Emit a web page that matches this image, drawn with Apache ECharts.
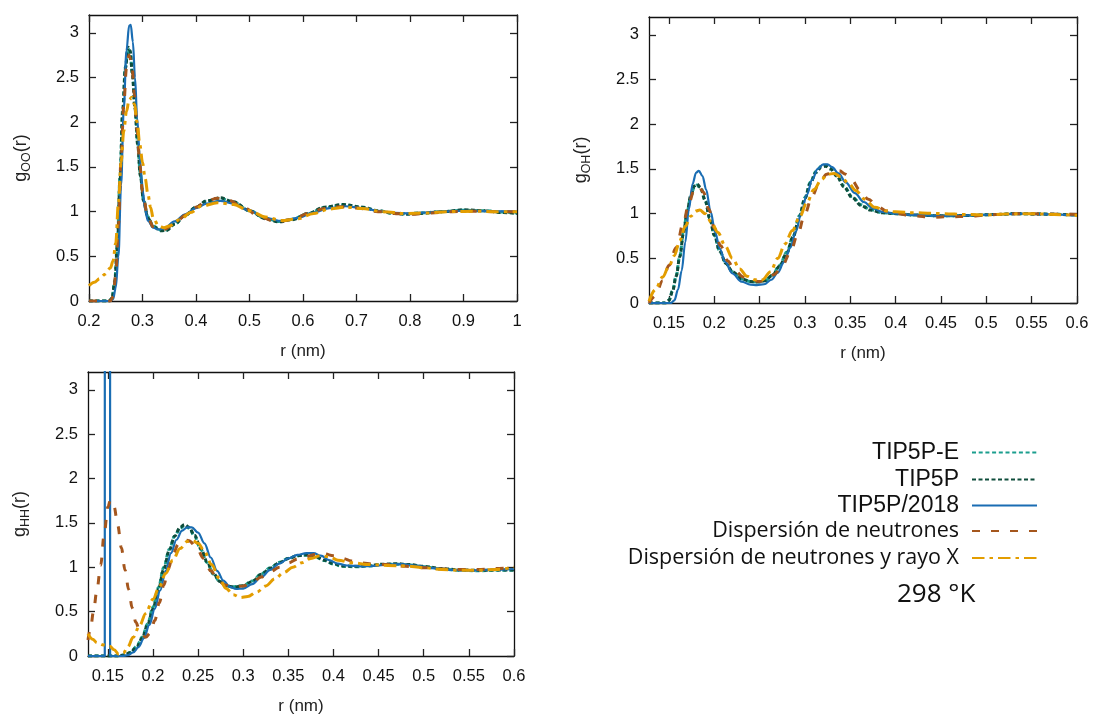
<!DOCTYPE html>
<html>
<head>
<meta charset="utf-8">
<script src="https://cdn.jsdelivr.net/npm/echarts@6/dist/echarts.min.js"></script>
<style>
html,body{margin:0;padding:0;background:#fff}
#chart{width:1093px;height:716px}
</style>
</head>
<body>
<div id="chart"></div>
<script>
// serie names, in the legend order
var names = ['TIP5P-E', 'TIP5P', 'TIP5P/2018', 'Dispersión de neutrones', 'Dispersión de neutrones y rayo X'];

// tick labels
var yTicks = [0, 0.5, 1, 1.5, 2, 2.5, 3];
var xTicksOO = [0.2, 0.3, 0.4, 0.5, 0.6, 0.7, 0.8, 0.9, 1];
var xTicksOH = [0.15, 0.2, 0.25, 0.3, 0.35, 0.4, 0.45, 0.5, 0.55, 0.6];
var xTicksHH = [0.15, 0.2, 0.25, 0.3, 0.35, 0.4, 0.45, 0.5, 0.55, 0.6];

// g_OO(r)
var gOO_tip5pe = [[0.2,0],[0.238,0],[0.243,0.03],[0.248,0.22],[0.253,0.65],[0.258,1.4],[0.263,2.15],[0.268,2.62],[0.273,2.82],[0.277,2.78],[0.281,2.55],[0.286,2.17],[0.291,1.77],[0.296,1.42],[0.302,1.13],[0.31,0.94],[0.32,0.84],[0.335,0.79],[0.345,0.795],[0.36,0.86],[0.38,0.96],[0.40,1.05],[0.42,1.115],[0.445,1.15],[0.47,1.105],[0.50,1.01],[0.53,0.925],[0.555,0.89],[0.58,0.915],[0.61,0.98],[0.64,1.045],[0.675,1.075],[0.71,1.05],[0.74,1.01],[0.77,0.98],[0.79,0.975],[0.82,0.985],[0.86,1.0],[0.9,1.015],[0.94,1.01],[0.97,0.995],[1.0,0.985]];
var gOO_tip5p = [[0.2,0],[0.238,0],[0.243,0.03],[0.248,0.2],[0.253,0.6],[0.258,1.35],[0.263,2.1],[0.268,2.6],[0.273,2.84],[0.277,2.8],[0.281,2.55],[0.286,2.15],[0.291,1.75],[0.296,1.4],[0.302,1.12],[0.31,0.93],[0.32,0.83],[0.335,0.785],[0.345,0.79],[0.36,0.86],[0.38,0.96],[0.40,1.05],[0.42,1.12],[0.445,1.155],[0.47,1.11],[0.50,1.01],[0.53,0.92],[0.555,0.885],[0.58,0.91],[0.61,0.98],[0.64,1.05],[0.675,1.08],[0.71,1.05],[0.74,1.01],[0.77,0.98],[0.79,0.97],[0.82,0.98],[0.86,1.0],[0.9,1.02],[0.94,1.01],[0.97,0.99],[1.0,0.98]];
var gOO_tip5p2018 = [[0.2,0],[0.24,0],[0.245,0.02],[0.25,0.15],[0.255,0.5],[0.26,1.3],[0.265,2.15],[0.27,2.8],[0.275,3.08],[0.278,3.09],[0.282,2.9],[0.286,2.5],[0.29,2.05],[0.295,1.6],[0.30,1.25],[0.305,1.02],[0.31,0.9],[0.32,0.82],[0.33,0.80],[0.34,0.81],[0.36,0.89],[0.38,0.97],[0.40,1.04],[0.42,1.09],[0.445,1.12],[0.47,1.09],[0.50,1.01],[0.53,0.93],[0.56,0.895],[0.59,0.93],[0.62,0.99],[0.65,1.04],[0.68,1.06],[0.71,1.04],[0.74,1.01],[0.77,0.985],[0.80,0.98],[0.83,0.99],[0.86,1.0],[0.90,1.01],[0.94,1.005],[1.0,1.0]];
var gOO_neutron = [[0.2,0],[0.24,0],[0.245,0.05],[0.25,0.3],[0.255,0.85],[0.26,1.6],[0.265,2.2],[0.27,2.6],[0.275,2.75],[0.28,2.65],[0.285,2.3],[0.29,1.9],[0.295,1.52],[0.30,1.22],[0.31,0.94],[0.32,0.83],[0.33,0.80],[0.34,0.80],[0.36,0.86],[0.38,0.96],[0.40,1.05],[0.42,1.12],[0.44,1.15],[0.46,1.13],[0.49,1.04],[0.52,0.94],[0.55,0.885],[0.58,0.91],[0.61,0.98],[0.64,1.035],[0.67,1.055],[0.70,1.04],[0.74,1.0],[0.78,0.975],[0.80,0.97],[0.84,0.985],[0.88,1.0],[0.92,1.005],[0.96,1.0],[1.0,1.0]];
var gOO_xray = [[0.2,0.17],[0.21,0.21],[0.22,0.25],[0.23,0.3],[0.24,0.37],[0.245,0.45],[0.25,0.65],[0.255,1.1],[0.26,1.55],[0.265,1.9],[0.27,2.12],[0.275,2.25],[0.28,2.28],[0.285,2.2],[0.29,2.0],[0.295,1.75],[0.30,1.55],[0.305,1.37],[0.31,1.2],[0.315,1.05],[0.32,0.93],[0.33,0.84],[0.34,0.82],[0.35,0.84],[0.37,0.91],[0.39,0.99],[0.41,1.06],[0.44,1.1],[0.47,1.08],[0.50,1.01],[0.53,0.94],[0.56,0.9],[0.59,0.92],[0.62,0.98],[0.65,1.03],[0.68,1.05],[0.71,1.035],[0.75,1.0],[0.79,0.98],[0.83,0.985],[0.87,1.0],[0.92,1.005],[0.96,1.0],[1.0,1.0]];

// g_OH(r)
var gOH_tip5pe = [[0.128,0],[0.146,0],[0.15,0.03],[0.154,0.14],[0.158,0.31],[0.162,0.53],[0.166,0.79],[0.17,1.02],[0.174,1.19],[0.178,1.3],[0.181,1.32],[0.185,1.28],[0.19,1.14],[0.195,0.95],[0.2,0.76],[0.206,0.58],[0.213,0.44],[0.22,0.35],[0.23,0.27],[0.24,0.24],[0.248,0.235],[0.256,0.25],[0.264,0.31],[0.272,0.42],[0.28,0.57],[0.287,0.75],[0.294,0.98],[0.3,1.18],[0.306,1.35],[0.312,1.47],[0.318,1.53],[0.323,1.54],[0.328,1.51],[0.335,1.43],[0.343,1.31],[0.352,1.19],[0.362,1.1],[0.372,1.045],[0.385,1.01],[0.40,1.0],[0.42,0.985],[0.45,0.975],[0.48,0.98],[0.51,0.99],[0.535,1.0],[0.56,0.995],[0.6,0.985]];
var gOH_tip5p = [[0.128,0],[0.146,0],[0.15,0.03],[0.154,0.13],[0.158,0.3],[0.162,0.52],[0.166,0.78],[0.17,1.02],[0.174,1.2],[0.178,1.31],[0.181,1.33],[0.185,1.29],[0.19,1.15],[0.195,0.95],[0.2,0.76],[0.206,0.58],[0.213,0.44],[0.22,0.35],[0.23,0.27],[0.24,0.24],[0.248,0.235],[0.256,0.25],[0.264,0.31],[0.272,0.41],[0.28,0.56],[0.287,0.74],[0.294,0.97],[0.3,1.17],[0.306,1.34],[0.312,1.46],[0.318,1.52],[0.323,1.53],[0.328,1.5],[0.335,1.42],[0.343,1.3],[0.352,1.18],[0.362,1.09],[0.372,1.04],[0.385,1.01],[0.40,1.0],[0.42,0.985],[0.45,0.975],[0.48,0.98],[0.51,0.99],[0.535,1.0],[0.56,0.995],[0.6,0.985]];
var gOH_tip5p2018 = [[0.128,0],[0.152,0],[0.156,0.03],[0.16,0.15],[0.164,0.36],[0.168,0.68],[0.172,1.05],[0.176,1.33],[0.18,1.46],[0.183,1.48],[0.187,1.42],[0.191,1.27],[0.196,1.02],[0.201,0.79],[0.206,0.61],[0.212,0.46],[0.22,0.33],[0.23,0.24],[0.24,0.205],[0.247,0.2],[0.255,0.21],[0.263,0.26],[0.27,0.34],[0.277,0.46],[0.284,0.62],[0.29,0.8],[0.296,1.01],[0.302,1.21],[0.308,1.38],[0.314,1.5],[0.32,1.55],[0.325,1.55],[0.33,1.52],[0.337,1.45],[0.345,1.35],[0.355,1.23],[0.365,1.13],[0.375,1.06],[0.385,1.02],[0.40,1.0],[0.42,0.985],[0.45,0.975],[0.48,0.98],[0.51,0.99],[0.535,1.0],[0.56,0.995],[0.6,0.98]];
var gOH_neutron = [[0.128,0.0],[0.135,0.08],[0.143,0.25],[0.15,0.42],[0.158,0.62],[0.166,0.9],[0.172,1.12],[0.178,1.27],[0.183,1.3],[0.188,1.24],[0.194,1.05],[0.2,0.84],[0.207,0.64],[0.215,0.47],[0.222,0.37],[0.232,0.29],[0.242,0.25],[0.25,0.24],[0.258,0.26],[0.266,0.32],[0.275,0.42],[0.284,0.57],[0.292,0.77],[0.3,1.0],[0.308,1.2],[0.316,1.35],[0.324,1.44],[0.332,1.48],[0.338,1.48],[0.345,1.44],[0.352,1.37],[0.36,1.27],[0.37,1.16],[0.38,1.08],[0.39,1.03],[0.40,1.0],[0.42,0.975],[0.44,0.96],[0.46,0.965],[0.48,0.97],[0.50,0.985],[0.52,0.995],[0.54,1.0],[0.57,0.995],[0.6,0.99]];
var gOH_xray = [[0.128,0.02],[0.135,0.15],[0.143,0.29],[0.15,0.41],[0.156,0.53],[0.162,0.7],[0.168,0.86],[0.174,0.97],[0.18,1.03],[0.184,1.04],[0.19,1.0],[0.197,0.9],[0.204,0.79],[0.212,0.64],[0.22,0.5],[0.228,0.38],[0.236,0.3],[0.245,0.26],[0.253,0.26],[0.262,0.35],[0.27,0.5],[0.278,0.66],[0.286,0.81],[0.294,0.96],[0.302,1.12],[0.31,1.27],[0.318,1.38],[0.325,1.44],[0.332,1.45],[0.34,1.41],[0.348,1.34],[0.356,1.26],[0.366,1.16],[0.377,1.07],[0.39,1.03],[0.40,1.02],[0.42,1.01],[0.45,1.0],[0.48,0.99],[0.5,0.985],[0.52,0.995],[0.55,1.0],[0.575,0.99],[0.6,0.98]];

// g_HH(r)
var gHH_tip5pe = [[0.128,0],[0.16,0],[0.168,0.01],[0.175,0.04],[0.182,0.11],[0.188,0.21],[0.194,0.36],[0.2,0.55],[0.206,0.77],[0.212,1.0],[0.218,1.2],[0.224,1.35],[0.23,1.44],[0.235,1.47],[0.24,1.44],[0.246,1.35],[0.253,1.2],[0.26,1.05],[0.267,0.92],[0.274,0.84],[0.281,0.79],[0.29,0.78],[0.3,0.795],[0.31,0.845],[0.32,0.925],[0.33,0.995],[0.34,1.055],[0.35,1.1],[0.36,1.13],[0.37,1.135],[0.38,1.115],[0.39,1.075],[0.4,1.035],[0.41,1.01],[0.425,1.005],[0.44,1.015],[0.455,1.03],[0.47,1.035],[0.485,1.025],[0.5,1.005],[0.52,0.98],[0.54,0.965],[0.56,0.96],[0.58,0.965],[0.6,0.965]];
var gHH_tip5p = [[0.128,0],[0.16,0],[0.168,0.01],[0.175,0.04],[0.182,0.1],[0.188,0.2],[0.194,0.35],[0.2,0.53],[0.206,0.75],[0.212,0.98],[0.218,1.19],[0.224,1.35],[0.23,1.45],[0.235,1.48],[0.24,1.45],[0.246,1.36],[0.253,1.21],[0.26,1.06],[0.267,0.93],[0.274,0.84],[0.281,0.79],[0.29,0.775],[0.3,0.79],[0.31,0.84],[0.32,0.92],[0.33,0.99],[0.34,1.05],[0.35,1.1],[0.36,1.13],[0.37,1.14],[0.38,1.12],[0.39,1.08],[0.4,1.04],[0.41,1.015],[0.425,1.01],[0.44,1.02],[0.455,1.035],[0.47,1.04],[0.485,1.03],[0.5,1.01],[0.52,0.985],[0.54,0.97],[0.56,0.965],[0.58,0.97],[0.6,0.97]];
var gHH_tip5p2018_intra = [[0.128,0],[0.1466,0],[0.1469,30],[0.1522,30],[0.1525,0],[0.166,0]];
var gHH_tip5p2018 = [[0.1525,0],[0.165,0],[0.172,0.01],[0.178,0.04],[0.184,0.1],[0.19,0.2],[0.196,0.35],[0.202,0.53],[0.208,0.74],[0.214,0.96],[0.22,1.16],[0.226,1.31],[0.232,1.41],[0.238,1.45],[0.243,1.45],[0.25,1.39],[0.257,1.27],[0.264,1.11],[0.271,0.96],[0.278,0.85],[0.285,0.78],[0.292,0.755],[0.3,0.76],[0.31,0.81],[0.32,0.89],[0.33,0.97],[0.34,1.04],[0.35,1.1],[0.36,1.14],[0.37,1.16],[0.378,1.16],[0.386,1.13],[0.395,1.08],[0.405,1.04],[0.415,1.02],[0.43,1.01],[0.445,1.015],[0.46,1.03],[0.475,1.035],[0.49,1.02],[0.51,0.99],[0.53,0.97],[0.55,0.965],[0.575,0.97],[0.6,0.98]];
var gHH_neutron = [[0.128,0.18],[0.131,0.32],[0.134,0.5],[0.138,0.75],[0.142,1.02],[0.146,1.38],[0.15,1.68],[0.153,1.76],[0.157,1.68],[0.161,1.47],[0.165,1.22],[0.169,0.97],[0.173,0.75],[0.177,0.54],[0.181,0.38],[0.186,0.26],[0.192,0.21],[0.197,0.26],[0.202,0.4],[0.207,0.6],[0.212,0.8],[0.217,0.98],[0.222,1.14],[0.228,1.26],[0.234,1.31],[0.24,1.3],[0.248,1.23],[0.256,1.1],[0.264,0.96],[0.272,0.85],[0.28,0.8],[0.29,0.78],[0.3,0.79],[0.31,0.83],[0.32,0.89],[0.33,0.95],[0.34,1.0],[0.35,1.05],[0.36,1.09],[0.37,1.12],[0.38,1.145],[0.39,1.15],[0.4,1.13],[0.41,1.1],[0.42,1.07],[0.43,1.05],[0.445,1.035],[0.46,1.03],[0.48,1.01],[0.5,0.995],[0.52,0.98],[0.54,0.975],[0.56,0.975],[0.58,0.985],[0.6,1.0]];
var gHH_xray = [[0.128,0.25],[0.133,0.19],[0.138,0.15],[0.145,0.125],[0.152,0.11],[0.157,0.07],[0.162,0.02],[0.167,0.03],[0.172,0.1],[0.178,0.21],[0.185,0.34],[0.192,0.48],[0.2,0.64],[0.207,0.78],[0.214,0.93],[0.222,1.08],[0.23,1.21],[0.238,1.29],[0.244,1.3],[0.25,1.27],[0.257,1.18],[0.265,1.03],[0.273,0.88],[0.281,0.76],[0.289,0.69],[0.297,0.66],[0.305,0.67],[0.315,0.72],[0.325,0.79],[0.335,0.87],[0.345,0.94],[0.355,1.0],[0.365,1.05],[0.375,1.1],[0.385,1.13],[0.395,1.12],[0.405,1.08],[0.42,1.05],[0.44,1.03],[0.46,1.02],[0.48,1.015],[0.5,0.995],[0.52,0.975],[0.54,0.965],[0.56,0.965],[0.58,0.975],[0.6,1.0]];

var colors = ['#1b9e8e', '#0e4d3b', '#1a6db3', '#a5561d', '#e39d00'];
var lineTypes = [[4, 2.7], [4, 2.5], 'solid', [8, 11], [12.5, 5, 3.5, 5]];
var lineWidths = [3, 3, 2.2, 3, 3];

var sans = 'Liberation Sans, Arial, sans-serif';
var myChart = echarts.init(document.getElementById('chart'), null, {renderer: 'canvas'});

function lineSerie(i, data, axis, smooth) {
	return {
		name: names[i],
		type: 'line',
		xAxisIndex: axis,
		yAxisIndex: axis,
		data: data,
		symbol: 'none',
		smooth: smooth === false ? false : 0.35,
		smoothMonotone: 'x',
		clip: true,
		animation: false,
		lineStyle: {color: colors[i], width: lineWidths[i], type: lineTypes[i], cap: 'butt'},
		itemStyle: {color: colors[i]},
		z: 2 + i
	};
}

// eje x (abajo) + copia arriba sin etiquetas
function xAxes(grid, min, max, ticks) {
	var base = {
		type: 'value', gridIndex: grid, min: min, max: max,
		axisLine: {show: true, onZero: false, lineStyle: {color: '#111', width: 1.3}},
		axisTick: {show: true, inside: true, length: 7, customValues: ticks, lineStyle: {color: '#222', width: 1.3}},
		splitLine: {show: false}
	};
	var bottom = echarts.util.merge({
		position: 'bottom',
		name: 'r (nm)', nameLocation: 'middle', nameGap: 42,
		nameTextStyle: {fontFamily: sans, fontSize: 17, color: '#222'},
		axisLabel: {show: true, customValues: ticks, margin: 12, fontFamily: sans, fontSize: 16.5, color: '#111',
			formatter: function (v) { return String(+v.toFixed(3)); }}
	}, base, true);
	var top = echarts.util.merge({position: 'top', axisLabel: {show: false}}, base, true);
	return [bottom, top];
}

function yAxes(grid, sub, gap) {
	var base = {
		type: 'value', gridIndex: grid, min: 0, max: 3.2,
		axisLine: {show: true, onZero: false, lineStyle: {color: '#111', width: 1.3}},
		axisTick: {show: true, inside: true, length: 7, customValues: yTicks, lineStyle: {color: '#222', width: 1.3}},
		splitLine: {show: false}
	};
	var left = echarts.util.merge({
		position: 'left',
		name: '{g|g}{s|' + sub + '}{g|(r)}', nameLocation: 'middle', nameGap: gap,
		nameTextStyle: {fontFamily: sans, fontSize: 18, color: '#222',
			rich: {
				g: {fontFamily: sans, fontSize: 18, color: '#222', lineHeight: 24},
				s: {fontFamily: sans, fontSize: 12.5, color: '#222', lineHeight: 13, verticalAlign: 'bottom'}
			}},
		axisLabel: {show: true, customValues: yTicks, margin: 10, fontFamily: sans, fontSize: 16.5, color: '#111'}
	}, base, true);
	var right = echarts.util.merge({position: 'right', axisLabel: {show: false}}, base, true);
	return [left, right];
}

var legendTops = [441, 468, 494, 520, 547];
var legendFonts = [sans, sans, sans, 'Open Sans, Noto Sans, sans-serif', 'Open Sans, Noto Sans, sans-serif'];
var legendSizes = [23, 23, 23, 21.5, 21.5];
var legends = [];
for (var k = 0; k < names.length; k++) {
	legends.push({
		data: [names[k]],
		orient: 'vertical',
		right: 55,
		top: legendTops[k],
		align: 'right',
		padding: 0,
		itemWidth: 65,
		itemHeight: 18,
		selectedMode: false,
		itemStyle: {opacity: 0},
		textStyle: {fontFamily: legendFonts[k], fontSize: legendSizes[k], color: '#111', padding: [0, 8, 0, 0]}
	});
}

var option = {
	backgroundColor: '#fff',
	animation: false,
	grid: [
		{left: 89, top: 15, width: 428, height: 286},
		{left: 649, top: 17, width: 428, height: 286},
		{left: 88, top: 372, width: 426, height: 286}
	],
	xAxis: [].concat(
		xAxes(0, 0.2, 1, xTicksOO),
		xAxes(1, 0.128, 0.6, xTicksOH),
		xAxes(2, 0.128, 0.6, xTicksHH)
	),
	yAxis: [].concat(
		yAxes(0, 'OO', 56),
		yAxes(1, 'OH', 56),
		yAxes(2, 'HH', 56)
	),
	legend: legends,
	graphic: [{
		type: 'text', left: 897, top: 582,
		style: {text: '298 °K', fontFamily: 'Open Sans, Noto Sans, sans-serif', fontSize: 26, fill: '#111'}
	}],
	series: [
		lineSerie(0, gOO_tip5pe, 0), lineSerie(1, gOO_tip5p, 0), lineSerie(2, gOO_tip5p2018, 0),
		lineSerie(3, gOO_neutron, 0), lineSerie(4, gOO_xray, 0),
		lineSerie(0, gOH_tip5pe, 2), lineSerie(1, gOH_tip5p, 2), lineSerie(2, gOH_tip5p2018, 2),
		lineSerie(3, gOH_neutron, 2), lineSerie(4, gOH_xray, 2),
		lineSerie(0, gHH_tip5pe, 4), lineSerie(1, gHH_tip5p, 4), lineSerie(2, gHH_tip5p2018, 4),
		lineSerie(2, gHH_tip5p2018_intra, 4, false),
		lineSerie(3, gHH_neutron, 4), lineSerie(4, gHH_xray, 4)
	]
};
myChart.setOption(option);
</script>
</body>
</html>
